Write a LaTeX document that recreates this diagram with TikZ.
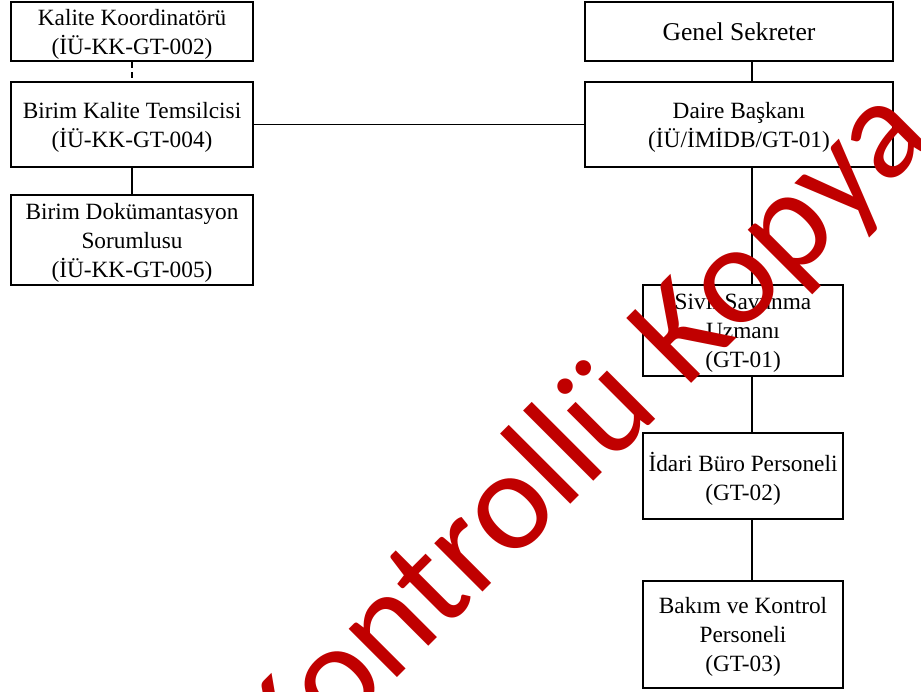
\documentclass[tikz,border=0pt]{standalone}
\usepackage{fontspec}
\setmainfont{Liberation Serif}
\newfontfamily\wmfont{Carlito}
\usepackage{tikz}
\usetikzlibrary{positioning}
\definecolor{wmred}{RGB}{192,0,0}

\begin{document}
\begin{tikzpicture}[x=0.5pt, y=-0.5pt,
  box/.style={draw, line width=1pt, align=center, inner sep=0pt, text depth=0pt, font=\fontsize{11.65}{14.5}\selectfont},
  leftbox/.style={box, minimum width=121pt},
  topbox/.style={box, minimum width=154pt},
  unitbox/.style={box, minimum width=100pt},
  link/.style={line width=0.6pt},
  watermark/.style={rotate=45, anchor=base, inner sep=0pt, font=\wmfont\fontsize{71.5}{71.5}\selectfont}]
\useasboundingbox (0,0) rectangle (921,691);

\node[leftbox, minimum height=29.5pt] (kalite) at (132,31.5) {Kalite Koordinatörü\\(İÜ-KK-GT-002)};
\node[leftbox, minimum height=42.5pt] (temsilci) at (132,124.5) {Birim Kalite Temsilcisi\\(İÜ-KK-GT-004)};
\node[leftbox, minimum height=45pt] (dokuman) at (132,240) {Birim Dokümantasyon\\Sorumlusu\\(İÜ-KK-GT-005)};

\node[topbox, minimum height=29.5pt, font=\fontsize{12.8}{15}\selectfont] (genel) at (739,31.5) {Genel Sekreter};
\node[topbox, minimum height=42.5pt] (daire) at (739,124.5) {Daire Başkanı\\(İÜ/İMİDB/GT-01)};

\node[unitbox, minimum height=45.5pt] (sivil) at (743,330.5) {Sivil Savunma\\Uzmanı\\(GT-01)};
\node[unitbox, minimum height=43pt] (idari) at (743,476) {İdari Büro Personeli\\(GT-02)};
\node[unitbox, minimum height=53.5pt] (bakim) at (743,634.5) {Bakım ve Kontrol\\Personeli\\(GT-03)};

\coordinate (spine) at (752,0);

\draw[link, dash pattern=on 3pt off 2pt] (kalite.south) -- (temsilci.north);
\draw[link] (temsilci.south) -- (dokuman.north);
\draw[link] (temsilci.east) -- (daire.west);
\draw[link] (genel.south -| spine) -- (daire.north -| spine);
\draw[link] (daire.south -| spine) -- (sivil.north -| spine);
\draw[link] (sivil.south -| spine) -- (idari.north -| spine);
\draw[link] (idari.south -| spine) -- (bakim.north -| spine);

\begin{scope}
\clip (0,0) rectangle (921,691);
\node[watermark] (kopya) at (611,464) {\textcolor{wmred}{Kontrollü Kopya}};
\end{scope}

\end{tikzpicture}
\end{document}
